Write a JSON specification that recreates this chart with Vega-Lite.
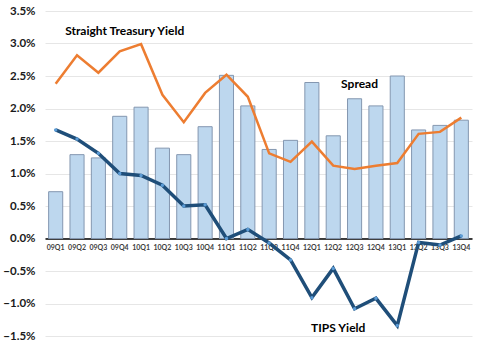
{
  "$schema": "https://vega.github.io/schema/vega-lite/v6.json",
  "autosize": "none",
  "width": 427,
  "height": 325,
  "padding": {"left": 45, "top": 11, "right": 8, "bottom": 13},
  "background": "white",
  "config": {
    "view": {"stroke": null}, "font": "Lato",
    "axisY": {"labelOverlap": false, "tickCount": 11}
  },
  "datasets": {
    "main": [
      {"q": "09Q1", "spread": 0.72, "treasury": 2.38, "tips": 1.67},
      {"q": "09Q2", "spread": 1.29, "treasury": 2.82, "tips": 1.53},
      {"q": "09Q3", "spread": 1.24, "treasury": 2.55, "tips": 1.31},
      {"q": "09Q4", "spread": 1.88, "treasury": 2.88, "tips": 1.00},
      {"q": "10Q1", "spread": 2.02, "treasury": 2.99, "tips": 0.97},
      {"q": "10Q2", "spread": 1.39, "treasury": 2.21, "tips": 0.82},
      {"q": "10Q3", "spread": 1.29, "treasury": 1.79, "tips": 0.50},
      {"q": "10Q4", "spread": 1.72, "treasury": 2.24, "tips": 0.52},
      {"q": "11Q1", "spread": 2.51, "treasury": 2.52, "tips": 0.00},
      {"q": "11Q2", "spread": 2.04, "treasury": 2.18, "tips": 0.14},
      {"q": "11Q3", "spread": 1.37, "treasury": 1.31, "tips": -0.07},
      {"q": "11Q4", "spread": 1.51, "treasury": 1.18, "tips": -0.33},
      {"q": "12Q1", "spread": 2.40, "treasury": 1.49, "tips": -0.91},
      {"q": "12Q2", "spread": 1.58, "treasury": 1.12, "tips": -0.46},
      {"q": "12Q3", "spread": 2.15, "treasury": 1.07, "tips": -1.08},
      {"q": "12Q4", "spread": 2.04, "treasury": 1.12, "tips": -0.92},
      {"q": "13Q1", "spread": 2.50, "treasury": 1.16, "tips": -1.34},
      {"q": "13Q2", "spread": 1.67, "treasury": 1.61, "tips": -0.06},
      {"q": "13Q3", "spread": 1.74, "treasury": 1.64, "tips": -0.10},
      {"q": "13Q4", "spread": 1.82, "treasury": 1.86, "tips": 0.04}
    ],
    "labels": [
      {"q": "09Q4", "v": 3.2, "t": "Straight Treasury Yield"},
      {"q": "12Q3", "v": 2.38, "t": "Spread"},
      {"q": "12Q2", "v": -1.38, "t": "TIPS Yield"}
    ]
  },
  "data": {"name": "main"},
  "encoding": {
    "x": {
      "field": "q", "type": "ordinal", "title": null,
      "scale": {"paddingInner": 0.34, "paddingOuter": 0.17},
      "axis": {
        "offset": -97.5, "labelAngle": 0, "ticks": false,
        "domainColor": "#000000", "domainWidth": 1.5,
        "labelFontSize": 7, "labelFontWeight": "bold", "labelColor": "#404040",
        "labelPadding": 5, "grid": false, "labelOverlap": false
      }
    }
  },
  "layer": [
    {
      "mark": {"type": "bar", "fill": "#BDD7EE", "stroke": "#8497B0", "strokeWidth": 1},
      "encoding": {
        "y": {
          "field": "spread", "type": "quantitative", "title": null,
          "scale": {"domain": [-1.5, 3.5], "nice": false, "zero": false},
          "axis": {
            "values": [-1.5, -1, -0.5, 0, 0.5, 1, 1.5, 2, 2.5, 3, 3.5],
            "labelExpr": "format(datum.value, '.1f') + '%'",
            "domain": false, "ticks": false, "grid": true, "gridColor": "#E6E6E6",
            "labelFontSize": 11.5, "labelFontWeight": "bold", "labelColor": "#1a1a1a",
            "labelPadding": 10, "labelOverlap": false, "labelBound": false, "labelFlush": false
          }
        }
      }
    },
    {
      "mark": {"type": "line", "color": "#ED7D31", "strokeWidth": 2.5},
      "encoding": {"y": {"field": "treasury", "type": "quantitative"}}
    },
    {
      "mark": {"type": "line", "color": "#1F4E79", "strokeWidth": 3.5,
               "point": {"filled": true, "fill": "#5B9BD5", "size": 12}},
      "encoding": {"y": {"field": "tips", "type": "quantitative"}}
    },
    {
      "data": {"name": "labels"},
      "mark": {"type": "text", "fontWeight": "bold", "fontSize": 12, "color": "#000000", "align": "center", "baseline": "middle", "font": "Lato", "dx": 5},
      "encoding": {
        "y": {"field": "v", "type": "quantitative"},
        "text": {"field": "t"}
      }
    }
  ]
}
